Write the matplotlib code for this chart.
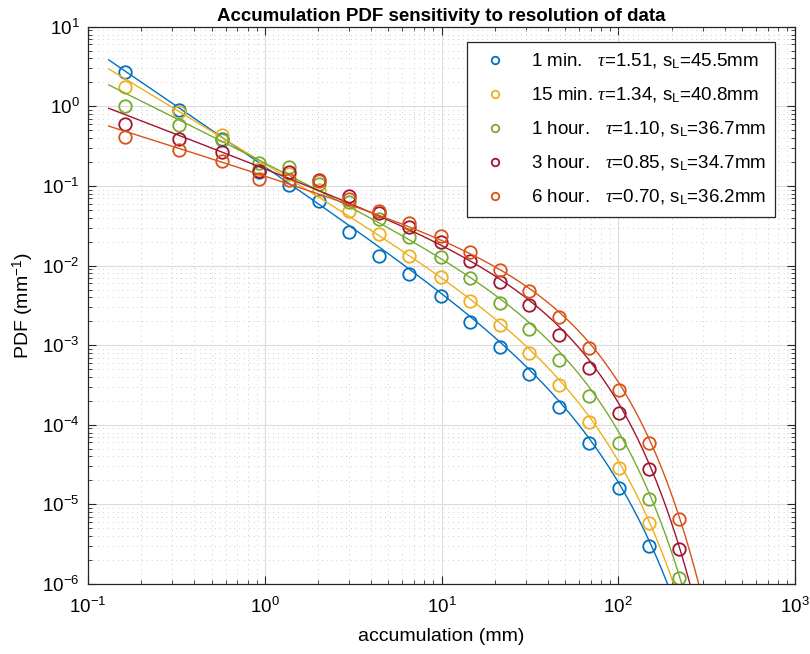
#!/usr/bin/env python3
"""Accumulation PDF vs data resolution, log-log, with fitted power-law/exponential curves."""
import matplotlib

matplotlib.use("Agg")
import matplotlib.pyplot as plt  # noqa: E402
import numpy as np  # noqa: E402

plt.rcParams["font.family"] = ["Liberation Sans", "DejaVu Sans"]
plt.rcParams["mathtext.fontset"] = "custom"
plt.rcParams["mathtext.rm"] = "Liberation Sans"
plt.rcParams["mathtext.it"] = "Liberation Serif:italic"

# bin centres (mm)
accum = [0.161, 0.326, 0.571, 0.93, 1.37, 2.02, 3.0, 4.42, 6.55, 9.9,
         14.5, 21.3, 31.3, 46.3, 68.0, 100.7, 149.0, 221.0]

# empirical PDF per resolution (mm^-1); None = below plot range
pdf_1min = [2.74, 0.89, 0.39, 0.152, 0.103, 0.064, 0.0267, 0.0132, 0.00787, 0.0042,
            0.00198, 0.000944, 0.000436, 0.000169, 5.86e-5, 1.6e-5, 3.03e-6, None]
pdf_15min = [1.73, 0.84, 0.44, 0.165, 0.14, 0.089, 0.049, 0.0251, 0.0132, 0.00728,
             0.0036, 0.0018, 0.000807, 0.000314, 0.000108, 2.84e-5, 5.9e-6, None]
pdf_1h = [1.02, 0.59, 0.38, 0.197, 0.171, 0.105, 0.063, 0.0383, 0.0228, 0.01276,
          0.00695, 0.00343, 0.00159, 0.000653, 0.000231, 5.86e-5, 1.17e-5, 1.18e-6]
pdf_3h = [0.60, 0.39, 0.27, 0.156, 0.152, 0.119, 0.076, 0.0456, 0.0304, 0.020,
          0.01155, 0.0063, 0.00321, 0.00135, 0.000514, 0.000142, 2.76e-5, 2.73e-6]
pdf_6h = [0.41, 0.285, 0.207, 0.122, 0.119, 0.114, 0.068, 0.0488, 0.0341, 0.0236,
          0.01486, 0.00883, 0.00481, 0.00225, 0.000916, 0.000274, 5.97e-5, 6.5e-6]

labels = ["1 min.", "15 min.", "1 hour.", "3 hour.", "6 hour."]
label_gaps = ["   ", " ", "   ", "   ", "   "]
tau = [1.51, 1.34, 1.10, 0.85, 0.70]
s_L = [45.5, 40.8, 36.7, 34.7, 36.2]
amp = [0.179, 0.195, 0.200, 0.169, 0.137]

colors = ["#0072BD", "#EDB120", "#77AC30", "#A2142F", "#D95319"]
series = [pdf_1min, pdf_15min, pdf_1h, pdf_3h, pdf_6h]


def main():
    fig = plt.figure(figsize=(8.1, 6.54), dpi=100)
    ax = fig.add_axes([0.1086, 0.107, 0.873, 0.852])

    xfit = np.logspace(np.log10(0.131), np.log10(400), 400)
    for lab, gap, t, s, a, c, ys in zip(labels, label_gaps, tau, s_L, amp, colors, series):
        xs = [x for x, y in zip(accum, ys) if y is not None]
        yv = [y for y in ys if y is not None]
        text = rf"{lab}{gap}$\mathit{{\tau}}$=%.2f, s$_{{\rm L}}$=%.1fmm" % (t, s)
        ax.plot(xs, yv, "o", mfc="none", mec=c, mew=1.3, ms=9, label=text)
        ax.plot(xfit, a * xfit ** (-t) * np.exp(-xfit / s), "-", color=c, lw=1.0)

    ax.set_xscale("log")
    ax.set_yscale("log")
    ax.set_xlim(0.1, 1000)
    ax.set_ylim(1e-6, 10)

    ax.grid(True, which="major", color="#dcdcdc", lw=0.8, ls="-")
    ax.grid(True, which="minor", color="#cfcfcf", lw=0.7, ls=(0, (1, 4)))
    ax.set_axisbelow(True)
    ax.tick_params(which="both", direction="in", top=True, right=True,
                   labelsize=13.5, color="#262626")
    ax.tick_params(which="major", length=6)
    ax.tick_params(which="minor", length=3)
    ax.tick_params(axis="x", which="major", pad=9)
    ax.tick_params(axis="y", which="major", pad=6)
    for sp in ax.spines.values():
        sp.set_color("#262626")
        sp.set_linewidth(0.9)

    ax.set_xlabel("accumulation (mm)", fontsize=14, labelpad=8)
    ax.set_ylabel(r"PDF (mm$^{-1}$)", fontsize=14, labelpad=4)
    ax.set_title("Accumulation PDF sensitivity to resolution of data",
                 fontsize=13.5, fontweight="bold", pad=4)

    leg = ax.legend(loc="upper right", bbox_to_anchor=(0.972, 0.972), fontsize=13.5,
                    frameon=True, fancybox=False, framealpha=1, edgecolor="#262626",
                    markerscale=0.6, handletextpad=0.9, labelspacing=0.78,
                    borderpad=0.5, handlelength=2.0, borderaxespad=0)
    leg.get_frame().set_linewidth(0.9)

    fig.savefig("out.png", dpi=100)
    plt.close(fig)


if __name__ == "__main__":
    main()
